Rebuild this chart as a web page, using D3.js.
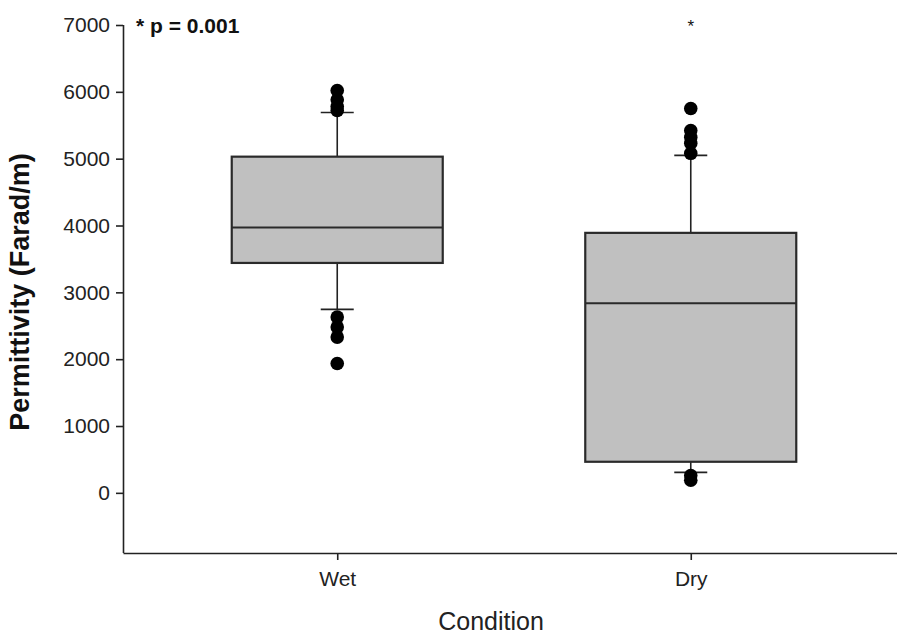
<!DOCTYPE html>
<html>
<head>
<meta charset="utf-8">
<script src="https://cdn.jsdelivr.net/npm/d3@7"></script>
<style>
  html, body { margin: 0; padding: 0; background: #fff; }
  svg { display: block; font-family: Arial, "Liberation Sans", sans-serif; }
</style>
</head>
<body>
<svg id="chart" width="897" height="639"></svg>
<script>
// Permittivity by soil condition: box summaries and outlying points
const categories = ["Wet", "Dry"];
const q1 = [3440, 465];
const medians = [3970, 2835];
const q3 = [5030, 3890];
const whiskerLow = [2745, 306];
const whiskerHigh = [5690, 5050];
const outliers = [
  [6020, 5880, 5780, 5720, 2630, 2480, 2330, 1935],
  [5750, 5420, 5320, 5230, 5080, 260, 190]
];
const yTicks = [0, 1000, 2000, 3000, 4000, 5000, 6000, 7000];
const yDomain = [-900, 7000];
const pLabel = "* p = 0.001";
const sigMark = "*";

const svg = d3.select("#chart");
const ink = "#222";

const y = d3.scaleLinear().domain(yDomain).range([553, 25]);
const x = d3.scalePoint().domain(categories).range([123, 905]).padding(0.606);

const boxHalf = 105.5;
const capHalf = 16.5;

// axes
const yAxis = svg.append("g")
  .attr("transform", "translate(123,0)")
  .call(d3.axisLeft(y).tickValues(yTicks).tickFormat(d3.format("d"))
    .tickSize(7).tickPadding(6).tickSizeOuter(0));
yAxis.select(".domain").attr("stroke", ink).attr("stroke-width", 1.6).attr("d", `M0.5,${y(7000)}V${y(yDomain[0])}`);
yAxis.selectAll(".tick line").attr("stroke", ink).attr("stroke-width", 1.6);
yAxis.selectAll(".tick text").attr("fill", "#222").attr("font-size", 21);

const xAxis = svg.append("g")
  .attr("transform", `translate(0,${y(yDomain[0])})`)
  .call(d3.axisBottom(x).tickSize(7).tickPadding(11).tickSizeOuter(0));
xAxis.select(".domain").attr("stroke", ink).attr("stroke-width", 1.6);
xAxis.selectAll(".tick line").attr("stroke", ink).attr("stroke-width", 1.6);
xAxis.selectAll(".tick text").attr("fill", "#222").attr("font-size", 21);

// boxes
const groups = svg.append("g").selectAll("g")
  .data(categories)
  .join("g");

groups.append("line")
  .attr("x1", c => x(c)).attr("x2", c => x(c))
  .attr("y1", (c, i) => y(q3[i])).attr("y2", (c, i) => y(whiskerHigh[i]))
  .attr("stroke", ink).attr("stroke-width", 1.6);
groups.append("line")
  .attr("x1", c => x(c)).attr("x2", c => x(c))
  .attr("y1", (c, i) => y(q1[i])).attr("y2", (c, i) => y(whiskerLow[i]))
  .attr("stroke", ink).attr("stroke-width", 1.6);
groups.append("line")
  .attr("x1", c => x(c) - capHalf).attr("x2", c => x(c) + capHalf)
  .attr("y1", (c, i) => y(whiskerHigh[i])).attr("y2", (c, i) => y(whiskerHigh[i]))
  .attr("stroke", ink).attr("stroke-width", 1.6);
groups.append("line")
  .attr("x1", c => x(c) - capHalf).attr("x2", c => x(c) + capHalf)
  .attr("y1", (c, i) => y(whiskerLow[i])).attr("y2", (c, i) => y(whiskerLow[i]))
  .attr("stroke", ink).attr("stroke-width", 1.6);

groups.append("rect")
  .attr("x", c => x(c) - boxHalf)
  .attr("width", boxHalf * 2)
  .attr("y", (c, i) => y(q3[i]))
  .attr("height", (c, i) => y(q1[i]) - y(q3[i]))
  .attr("fill", "#c0c0c0")
  .attr("stroke", "#2a2a2a").attr("stroke-width", 2.2);

groups.append("line")
  .attr("x1", c => x(c) - boxHalf).attr("x2", c => x(c) + boxHalf)
  .attr("y1", (c, i) => y(medians[i])).attr("y2", (c, i) => y(medians[i]))
  .attr("stroke", "#2a2a2a").attr("stroke-width", 2);

groups.each(function (c, i) {
  d3.select(this).selectAll("circle")
    .data(outliers[i])
    .join("circle")
    .attr("cx", x(c))
    .attr("cy", v => y(v))
    .attr("r", 6.8)
    .attr("fill", "#000");
});

// significance annotations
svg.append("text")
  .attr("x", 136).attr("y", y(7000) + 8)
  .attr("font-size", 21).attr("font-weight", "bold").attr("fill", "#111")
  .text(pLabel);

svg.append("text")
  .attr("x", x("Dry")).attr("y", y(7000) + 7)
  .attr("text-anchor", "middle")
  .attr("font-size", 17).attr("fill", "#111")
  .text(sigMark);

// axis titles
svg.append("text")
  .attr("transform", `translate(29,${(y(7000) + y(yDomain[0])) / 2 + 3}) rotate(-90)`)
  .attr("text-anchor", "middle")
  .attr("font-size", 27).attr("font-weight", "bold").attr("fill", "#111")
  .text("Permittivity (Farad/m)");

svg.append("text")
  .attr("x", 491).attr("y", 630)
  .attr("text-anchor", "middle")
  .attr("font-size", 25).attr("fill", "#222")
  .text("Condition");
</script>
</body>
</html>
